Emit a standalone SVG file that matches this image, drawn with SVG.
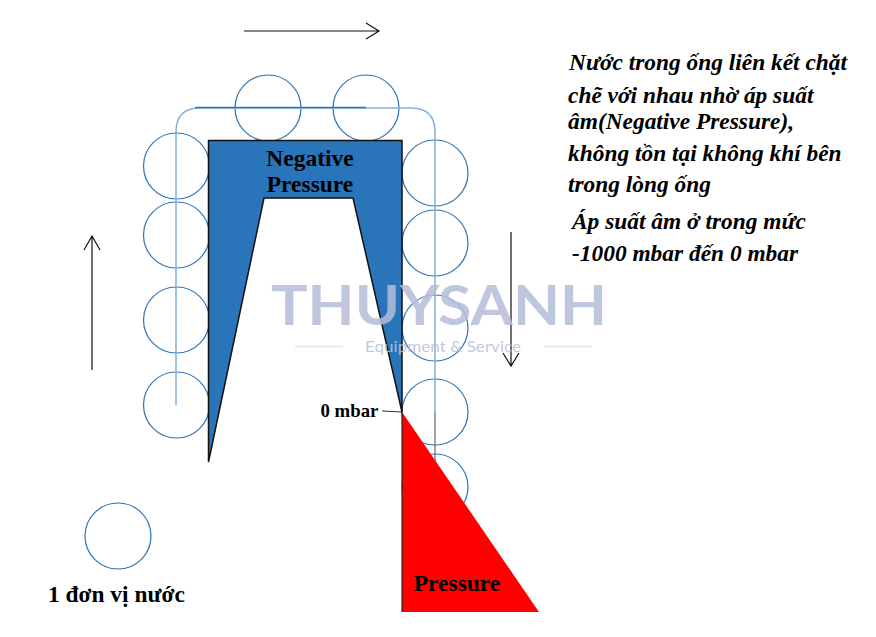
<svg xmlns="http://www.w3.org/2000/svg" width="876" height="637" viewBox="0 0 876 637">
<defs>
<style>
.c{fill:none;stroke:#2e75b6;stroke-width:1.2}
.a{fill:none;stroke:#111;stroke-width:1.2}
.t{font-family:"Liberation Serif",serif;font-weight:bold;fill:#000}
.i{font-style:italic;font-size:23.4px}
</style>
</defs>
<rect width="876" height="637" fill="#fff"/>
<g id="pipe-circles">
<circle class="c" cx="268" cy="108" r="33"/>
<circle class="c" cx="366" cy="108" r="33"/>
<circle class="c" cx="176.500" cy="166" r="33"/>
<circle class="c" cx="176.500" cy="235" r="33"/>
<circle class="c" cx="176.500" cy="320" r="33"/>
<circle class="c" cx="176.500" cy="405" r="33"/>
<circle class="c" cx="435" cy="173" r="33"/>
<circle class="c" cx="435" cy="243" r="33"/>
<circle class="c" cx="435" cy="328" r="33"/>
<circle class="c" cx="435" cy="412" r="33"/>
<circle class="c" cx="435" cy="487" r="33"/>
</g>
<g id="connectors">
<path d="M176 405V132Q176 108 200 108H411Q435 108 435 132V412" fill="none" stroke="#7fb0dd" stroke-width="1.5"/>
<path d="M195 107.500H366" fill="none" stroke="#2e75b6" stroke-width="1.500"/>
<path d="M435 412V462" fill="none" stroke="#666" stroke-width="1.200"/>
<path class="a" d="M244 31H379M366 23L379 31L366 39"/>
<path class="a" d="M92 370V236M84 250L92 236L100 250"/>
<path class="a" d="M511 232V366M503 353L511 366L519 353"/>
<path d="M382 411L402 412" fill="none" stroke="#333" stroke-width="1.200"/>
</g>
<g id="negative-pressure">
<path d="M208.500 140.500H402V412L353 198H264L208.500 462Z" fill="#2a75ba" stroke="#111" stroke-width="1.500"/>
<text class="t" x="310" y="166" font-size="23.500" text-anchor="middle">Negative</text>
<text class="t" x="310" y="192" font-size="23.500" text-anchor="middle">Pressure</text>
</g>
<g id="pressure">
<path d="M402 412L539 612H402Z" fill="#ff0000"/>
<path d="M402 412V612" stroke="#222" stroke-width="1.200" fill="none"/>
<text class="t" x="457" y="591" font-size="23.500" text-anchor="middle">Pressure</text>
</g>
<g id="zero-label">
<text class="t" x="320.500" y="417" font-size="18.800">0 mbar</text>
</g>
<g id="water-unit">
<circle class="c" cx="118" cy="536" r="33"/>
<text class="t" x="48" y="602" font-size="23.400">1 đơn vị nước</text>
</g>
<g id="description">
<text class="t i" x="569" y="70">Nước trong ống liên kết chặt</text>
<text class="t i" x="568" y="103">chẽ với nhau nhờ áp suất</text>
<text class="t i" x="568" y="129">âm(Negative Pressure),</text>
<text class="t i" x="568" y="161">không tồn tại không khí bên</text>
<text class="t i" x="568" y="192">trong lòng ống</text>
<text class="t i" x="572" y="229">Áp suất âm ở trong mức</text>
<text class="t i" x="572" y="261">-1000 mbar đến 0 mbar</text>
</g>
<g id="watermark">
<text x="271" y="325" font-family="Lato,Inter,sans-serif" font-size="55" font-weight="700" fill="#b4bdd9" fill-opacity="0.85" textLength="336" lengthAdjust="spacingAndGlyphs">THUYSANH</text>
<text x="365" y="352" font-family="Lato,Inter,sans-serif" font-size="15" fill="#bcc1da" fill-opacity="0.9" textLength="156" lengthAdjust="spacingAndGlyphs">Equipment &amp; Service</text>
<path d="M295 346.500H343M544 346.500H592" stroke="#dfe3f0" stroke-width="1.500" fill="none"/>
</g>
</svg>
